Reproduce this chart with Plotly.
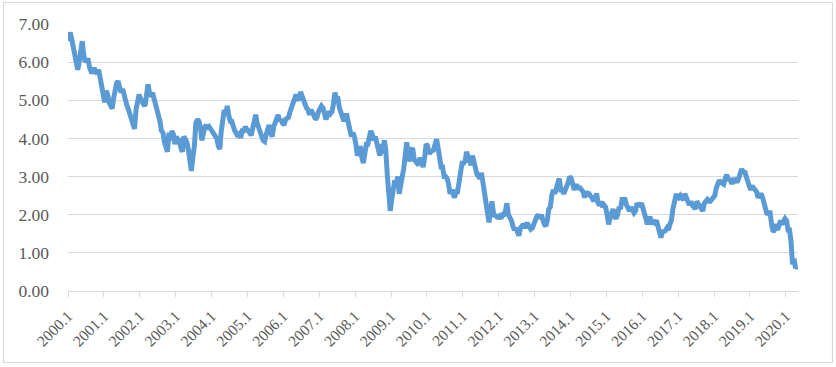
import plotly.graph_objects as go

# semi-monthly readings (two per month) of the series, per year
y2000 = [6.55, 6.78, 6.60, 6.40, 6.25, 6.00, 5.80, 6.00, 6.45, 6.55, 6.20, 6.00,
         6.05, 6.05, 5.85, 5.75, 5.75, 5.85, 5.75, 5.70, 5.80, 5.60, 5.30, 5.10]
y2001 = [4.95, 5.25, 5.15, 4.95, 4.85, 4.78, 5.05, 5.30, 5.45, 5.50, 5.30, 5.20,
         5.30, 5.10, 5.00, 4.85, 4.75, 4.60, 4.50, 4.30, 4.25, 4.75, 5.05, 5.15]
y2002 = [5.05, 4.95, 4.90, 4.85, 5.30, 5.42, 5.20, 5.10, 5.20, 5.05, 4.90, 4.80,
         4.70, 4.45, 4.20, 4.15, 3.90, 3.70, 3.65, 4.15, 3.95, 4.20, 4.10, 3.85]
y2003 = [4.05, 3.95, 3.95, 3.75, 3.65, 4.05, 3.95, 3.90, 3.70, 3.40, 3.15, 3.50,
         3.80, 4.40, 4.50, 4.45, 4.30, 3.95, 4.25, 4.30, 4.35, 4.25, 4.30, 4.25]
y2004 = [4.15, 4.10, 4.05, 4.00, 3.80, 3.72, 4.20, 4.50, 4.75, 4.65, 4.85, 4.60,
         4.45, 4.45, 4.30, 4.20, 4.15, 4.05, 4.10, 4.02, 4.20, 4.20, 4.30, 4.25]
y2005 = [4.25, 4.15, 4.08, 4.30, 4.55, 4.62, 4.40, 4.25, 4.15, 4.05, 3.95, 3.92,
         4.10, 4.25, 4.35, 4.15, 4.05, 4.30, 4.40, 4.55, 4.62, 4.45, 4.50, 4.40]
y2006 = [4.35, 4.50, 4.55, 4.55, 4.70, 4.80, 4.95, 5.05, 5.15, 5.05, 5.00, 5.22,
         5.10, 5.00, 4.90, 4.80, 4.75, 4.62, 4.75, 4.70, 4.60, 4.50, 4.55, 4.70]
y2007 = [4.75, 4.85, 4.80, 4.55, 4.50, 4.60, 4.70, 4.65, 4.70, 4.90, 5.20, 5.05,
         5.05, 4.80, 4.70, 4.60, 4.45, 4.60, 4.60, 4.40, 4.25, 4.05, 4.15, 4.05]
y2008 = [3.85, 3.55, 3.65, 3.80, 3.50, 3.35, 3.60, 3.85, 3.85, 4.05, 4.20, 4.10,
         3.95, 4.05, 3.90, 3.80, 3.55, 3.85, 3.60, 3.95, 3.70, 3.05, 2.60, 2.10]
y2009 = [2.40, 2.60, 2.90, 2.80, 3.00, 2.55, 2.90, 3.00, 3.20, 3.45, 3.90, 3.60,
         3.40, 3.70, 3.75, 3.45, 3.40, 3.30, 3.30, 3.50, 3.40, 3.25, 3.50, 3.85]
y2010 = [3.80, 3.60, 3.65, 3.70, 3.70, 3.85, 3.98, 3.75, 3.55, 3.25, 3.25, 3.00,
         3.00, 2.95, 2.80, 2.55, 2.65, 2.55, 2.45, 2.60, 2.60, 2.85, 3.25, 3.35]
y2011 = [3.35, 3.40, 3.65, 3.55, 3.45, 3.30, 3.55, 3.35, 3.20, 3.05, 3.00, 2.95,
         3.10, 2.85, 2.40, 2.20, 2.00, 1.80, 2.10, 2.35, 2.05, 1.95, 2.00, 1.90]
y2012 = [1.95, 1.90, 2.00, 2.00, 2.10, 2.30, 2.00, 1.95, 1.85, 1.70, 1.60, 1.65,
         1.50, 1.45, 1.65, 1.70, 1.75, 1.65, 1.75, 1.75, 1.65, 1.62, 1.65, 1.75]
y2013 = [1.90, 1.95, 2.00, 1.90, 2.00, 1.85, 1.75, 1.70, 1.85, 2.15, 2.20, 2.50,
         2.65, 2.55, 2.70, 2.85, 2.95, 2.65, 2.65, 2.55, 2.70, 2.75, 2.85, 3.00]
y2014 = [2.95, 2.70, 2.65, 2.75, 2.75, 2.70, 2.70, 2.65, 2.60, 2.45, 2.60, 2.55,
         2.55, 2.48, 2.45, 2.35, 2.50, 2.55, 2.30, 2.25, 2.35, 2.20, 2.25, 2.20]
y2015 = [2.00, 1.75, 1.90, 2.05, 2.15, 1.95, 1.90, 2.00, 2.20, 2.15, 2.40, 2.40,
         2.40, 2.25, 2.20, 2.10, 2.20, 2.10, 2.05, 2.10, 2.30, 2.25, 2.25, 2.30]
y2016 = [2.15, 2.00, 1.80, 1.75, 1.90, 1.90, 1.75, 1.85, 1.80, 1.85, 1.70, 1.50,
         1.40, 1.55, 1.55, 1.58, 1.65, 1.60, 1.75, 1.85, 2.15, 2.35, 2.50, 2.50]
y2017 = [2.45, 2.50, 2.40, 2.38, 2.55, 2.40, 2.35, 2.25, 2.35, 2.25, 2.20, 2.15,
         2.35, 2.30, 2.25, 2.20, 2.10, 2.30, 2.35, 2.40, 2.35, 2.35, 2.40, 2.45]
y2018 = [2.50, 2.70, 2.85, 2.90, 2.85, 2.80, 2.80, 2.95, 3.05, 2.90, 2.95, 2.85,
         2.85, 2.95, 2.90, 2.85, 2.95, 3.05, 3.20, 3.10, 3.15, 3.00, 2.85, 2.75]
y2019 = [2.65, 2.75, 2.70, 2.65, 2.60, 2.45, 2.50, 2.55, 2.45, 2.30, 2.10, 2.00,
         2.05, 2.05, 1.75, 1.55, 1.60, 1.75, 1.60, 1.80, 1.85, 1.75, 1.80, 1.90]
y2020 = [1.85, 1.60, 1.60, 1.30, 0.70, 0.85, 0.60, 0.65]

years = list(range(2000, 2021))
tick_labels = [f"{y}.1" for y in years]
y_tick_vals = [0, 1, 2, 3, 4, 5, 6, 7]
y_tick_text = [f"{v:.2f}" for v in y_tick_vals]

values = (y2000 + y2001 + y2002 + y2003 + y2004 + y2005 + y2006 + y2007 + y2008 +
          y2009 + y2010 + y2011 + y2012 + y2013 + y2014 + y2015 + y2016 + y2017 +
          y2018 + y2019 + y2020)
xs = [2000 + (k + 0.5) / 24 for k in range(len(values))]

fig = go.Figure()
fig.add_trace(go.Scatter(x=xs, y=values, mode="lines",
                         line=dict(color="#5B9BD5", width=5), hoverinfo="skip"))

font_family = "Liberation Serif, serif"
fig.update_layout(
    width=836, height=367,
    margin=dict(l=68, r=38, t=24, b=76, autoexpand=False),
    paper_bgcolor="white", plot_bgcolor="white",
    showlegend=False,
    font=dict(family=font_family, color="#595959"),
    xaxis=dict(
        range=[2000, 2020.34], automargin=False,
        tickmode="array", tickvals=years, ticktext=tick_labels,
        tickangle=-45, tickfont=dict(size=15.5, family=font_family, color="#595959"),
        ticks="outside", ticklen=5, tickcolor="#d9d9d9", tickwidth=1,
        showgrid=False, zeroline=False,
        showline=True, linecolor="#d9d9d9", linewidth=1,
        ticklabelstandoff=4,
    ),
    yaxis=dict(
        range=[0, 7], automargin=False,
        tickmode="array", tickvals=y_tick_vals, ticktext=y_tick_text,
        tickfont=dict(size=17.5, family=font_family, color="#595959"),
        showgrid=True, gridcolor="#d9d9d9", gridwidth=1,
        zeroline=False, showline=False, ticks="",
        ticklabelstandoff=18,
    ),
    shapes=[dict(type="rect", xref="paper", yref="paper",
                 x0=(3.5 - 68) / 730, x1=(832.5 - 68) / 730,
                 y0=(291 - 362.5) / 267, y1=(291 - 2.5) / 267,
                 line=dict(color="#d9d9d9", width=1.2), fillcolor="rgba(0,0,0,0)",
                 layer="below")],
)

fig.write_html("out.html", config={"displayModeBar": False},
               post_script="document.body.style.margin='0';document.body.style.padding='0';")
